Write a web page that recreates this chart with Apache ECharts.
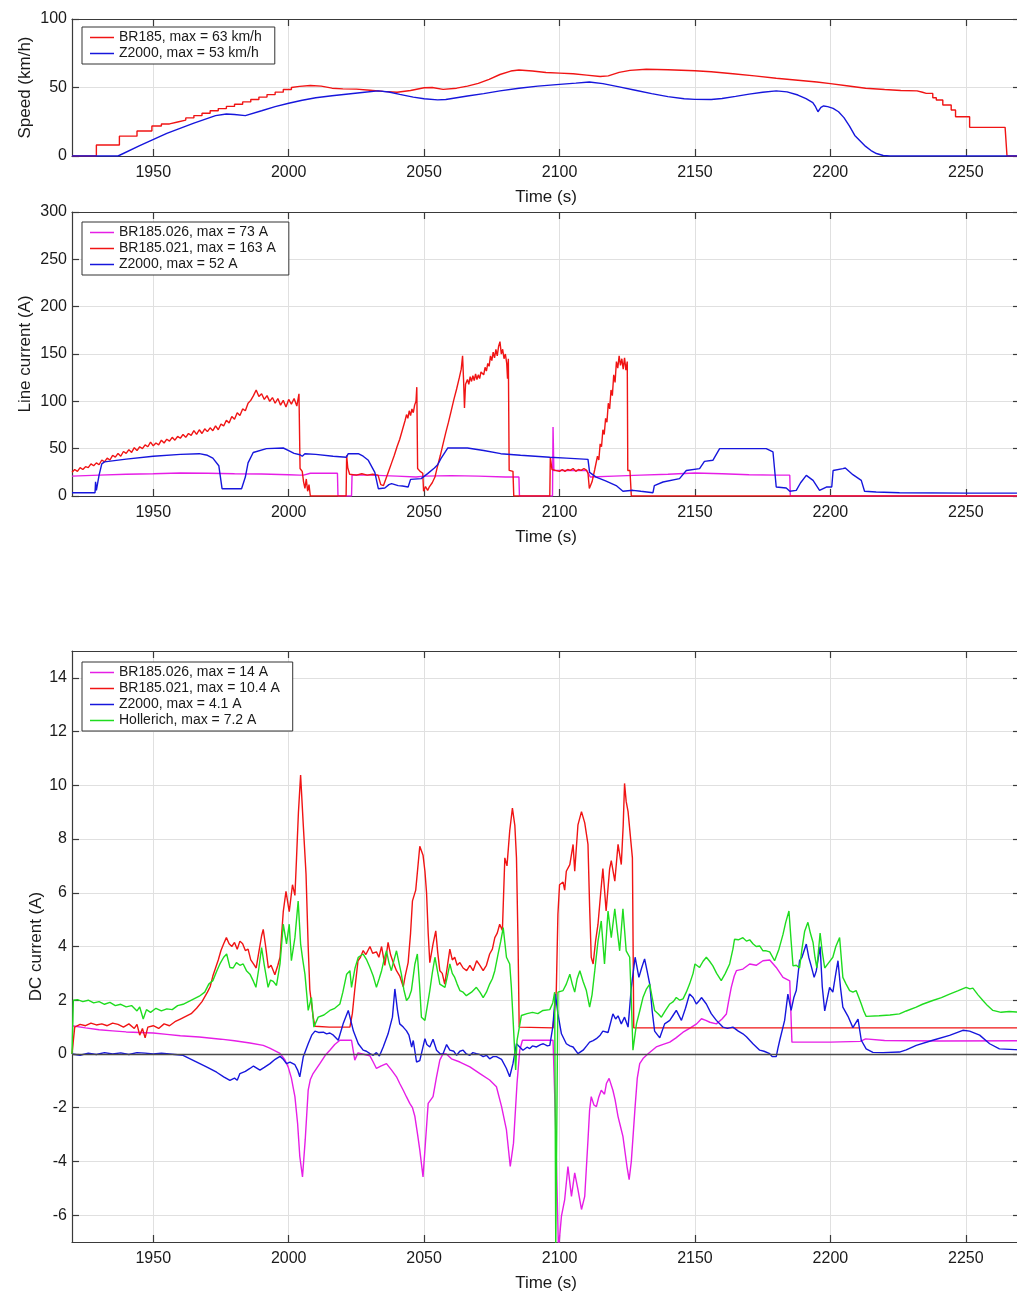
<!DOCTYPE html>
<html>
<head>
<meta charset="utf-8">
<script src="https://cdn.jsdelivr.net/npm/echarts@6/dist/echarts.min.js"></script>
<style>
html,body{margin:0;padding:0;background:#fff;overflow:hidden;}
#c{width:1026px;height:1293px;}
</style>
</head>
<body>
<div id="c"></div>
<script>
// ---------------- DATA ----------------
const xTicks = [1950, 2000, 2050, 2100, 2150, 2200, 2250];
const dcTicks = [-6, -4, -2, 0, 2, 4, 6, 8, 10, 12, 14];

const seriesNames = {
  spBR: 'BR185, max = 63 km/h',
  spZ: 'Z2000, max = 53 km/h',
  lnM: 'BR185.026, max = 73 A',
  lnR: 'BR185.021, max = 163 A',
  lnB: 'Z2000, max = 52 A',
  dcM: 'BR185.026, max = 14 A',
  dcR: 'BR185.021, max = 10.4 A',
  dcB: 'Z2000, max = 4.1 A',
  dcG: 'Hollerich, max = 7.2 A'
};

// Speed panel
const speedBR185 = [[1920,0],[1929,0],[1929,8],[1937.5,8],[1937.5,14.5],[1944,14.5],[1944,18.2],[1949.5,18.2],[1949.5,21.9],
[1953,21.9],[1953,23.4],[1956,23.4],[1956,24.8],[1959,24.8],[1959,26.2],[1962,26.2],[1962,27.8],[1965,27.8],[1965,29.5],
[1968,29.5],[1968,31.2],[1971,31.2],[1971,33],[1974,33],[1974,34.6],[1977,34.6],[1977,36.2],[1980,36.2],[1980,37.8],
[1983,37.8],[1983,39.5],[1986,39.5],[1986,41.2],[1989,41.2],[1989,43],[1992,43],[1992,44.8],[1995,44.8],[1995,46.6],
[1998,46.6],[1998,48.5],[2001,48.5],[2001,50],[2004,50.8],[2008,51.5],[2012,51],[2016,49.5],[2020,49],[2025,48.8],
[2030,48],[2035,47.2],[2040,46.5],[2045,47.8],[2050,49.8],[2053,50],[2057,48.6],[2062,49.5],[2066,51],[2070,53],
[2074,56],[2078,59.5],[2082,62],[2085,62.8],[2090,62],[2095,61],[2100,60.5],[2105,60],[2110,59],[2115,58],[2118,58.5],
[2122,61],[2126,62.5],[2132,63.3],[2140,63],[2150,62.2],[2156,61.5],[2164,60],[2172,58.5],[2180,56.8],[2188,55.3],
[2195,54],[2200,52.8],[2206,51.3],[2213,49.5],[2220,48.5],[2226,47.8],[2232,47.5],[2234,46.5],[2235.4,45.7],[2237.8,45.7],
[2237.8,42.5],[2239.1,42.5],[2239.1,40.9],[2241.5,40.9],[2241.5,37.2],[2244.6,37.2],[2244.6,33.6],[2246.2,33.6],
[2246.2,28.7],[2251.4,28.7],[2251.4,20.9],[2264.5,20.9],[2265.2,0],[2270,0]];

const speedZ2000 = [[1920,0],[1937,0],[1945,7.5],[1955,16.5],[1965,24],[1973,29.5],[1977,30.7],[1980,30.3],[1984,29.5],
[1990,33],[1995,36],[2000,38.5],[2005,40.7],[2010,42.5],[2016,44],[2022,45.3],[2028,46.5],[2033,47.5],[2037,46.7],
[2041,45],[2046,43],[2050,41.8],[2055,41],[2058,41.2],[2062,42.5],[2066,43.8],[2072,45.5],[2078,47.5],[2085,49.5],
[2092,51],[2100,52.3],[2106,53.2],[2111,54],[2116,52.8],[2122,50.5],[2128,48],[2134,45.5],[2140,43.3],[2146,41.8],
[2150,41.3],[2156,41.2],[2160,42],[2165,43.5],[2170,45.2],[2175,46.5],[2180,47.5],[2184,46.8],[2188,44.5],[2191,41.8],
[2193.5,39],[2194.5,36],[2195.4,32.3],[2196.5,35.5],[2197.5,36.5],[2199,36],[2201,34.8],[2203,32.3],[2205,28],
[2207,22],[2209,15],[2211,11],[2213,7],[2215,4],[2217,1.8],[2219.5,0.4],[2222,0],[2270,0]];

// Line current panel
const lineBR026 = [[1920,21],[1930,22],[1940,23],[1950,23.5],[1960,24.3],[1970,24],[1980,23.5],[1990,23.2],[2000,22.5],
[2004,22],[2005.5,22],[2006,23.8],[2008,24],[2018,24],[2018.2,0],[2023.2,0],[2023.4,22.5],[2030,22],[2040,21],[2047,20],
[2050,21],[2060,21.5],[2070,21],[2080,20],[2085,20],[2085.2,0],[2097.4,0],[2097.6,73],[2097.9,27],[2105,27],[2110,27],
[2111.4,20],[2120,21],[2130,22],[2140,23],[2150,24.3],[2160,23.5],[2170,22.5],[2180,22],[2185,22],[2185.2,0],[2270,0]];

const lineBR021 = [[1920,25],[1921,28],[1922,26],[1923,30],[1924,28],[1925,31],[1926,30],[1927,34],[1928,32],[1929,35],
[1930,33],[1931,38],[1932,36],[1933,40],[1934,38],[1935,43],[1936,41],[1937,45],[1938,42],[1939,47],[1940,45],[1941,49],
[1942,46],[1943,51],[1944,48],[1945,52],[1946,50],[1947,54],[1948,52],[1949,57],[1950,53],[1951,56],[1952,54],[1953,59],
[1954,56],[1955,60],[1956,58],[1957,62],[1958,59],[1959,63],[1960,61],[1961,65],[1962,62],[1963,66],[1964,64],[1965,69],
[1966,65],[1967,70],[1968,66],[1969,71],[1970,68],[1971,72],[1972,69],[1973,74],[1974,70],[1975,76],[1976,74],[1977,80],
[1978,77],[1979,84],[1980,81],[1981,88],[1982,85],[1983,92],[1984,90],[1985,98],[1986,101],[1987,106],[1988,112],
[1989,105],[1990,108],[1991,102],[1992,106],[1993,100],[1994,104],[1995,98],[1996,103],[1997,96],[1998,101],[1999,94],
[2000,102],[2001,97],[2002,103],[2003,95],[2003.8,108],[2004.2,29],[2005,26],[2005.5,15],[2006,8],[2006.5,18],[2007,5],
[2007.5,12],[2008,0],[2021.2,0],[2021.4,43],[2021.8,30],[2022.5,23],[2025,22],[2027,23.5],[2029,22],[2031,23],[2033,22],
[2034,12],[2035,11],[2036,19],[2037,27],[2038,35],[2039,43],[2040,52],[2041,60],[2042,70],[2043,80],[2043.5,86],[2044,82],
[2044.5,90],[2045,85],[2045.5,92],[2046,88],[2046.5,96],[2047,100],[2047.3,115],[2047.6,29],[2048.5,26],[2049.5,24],
[2049.8,5],[2050.5,10],[2051.3,6],[2052,10],[2053,14],[2054,20],[2055,32],[2056,43],[2057,55],[2058,67],[2059,78],
[2060,90],[2061,102],[2062,113],[2063,125],[2063.7,134],[2064.2,148],[2064.6,120],[2064.9,93],[2065.3,118],[2066,123],
[2066.5,118],[2067,126],[2067.5,121],[2068,127],[2068.5,122],[2069,129],[2069.5,123],[2070,128],[2070.5,124],[2071,131],
[2072,128],[2072.5,136],[2073,132],[2073.5,140],[2074,137],[2074.5,148],[2075,143],[2075.5,152],[2076,146],[2076.5,155],
[2077,148],[2077.5,158],[2078,163],[2078.5,150],[2079,155],[2079.5,145],[2080,150],[2080.5,140],[2080.8,124],[2081.1,145],
[2081.4,27],[2082,26],[2082.8,26],[2083.1,0],[2096.4,0],[2096.6,41],[2097.2,28],[2098.5,27],[2100,26],[2101,28],[2102,26],
[2103,28],[2104,27],[2105,29],[2106,26],[2107,28],[2108,27],[2109,29],[2110,27],[2110.5,24],[2111,8],[2112,15],[2113,28],
[2113.5,26],[2114,42],[2114.5,38],[2115,55],[2115.5,52],[2116,70],[2116.5,65],[2117,82],[2117.5,78],[2118,98],[2118.5,92],
[2119,112],[2119.5,106],[2120,128],[2120.5,120],[2121,142],[2121.5,135],[2122,148],[2122.5,138],[2123,145],[2123.5,134],
[2124,146],[2124.5,133],[2125,142],[2125.2,27],[2126,27],[2126.5,0],[2270,0]];

const lineZ2000 = [[1920,3.5],[1928.5,3.5],[1928.7,15],[1929,6],[1930,22],[1931,34],[1932,36],[1940,39],[1950,42],[1960,44],
[1967,44.7],[1970,43],[1972,40],[1974.2,32],[1975.4,7.7],[1982.6,7.7],[1984,20],[1985,35],[1986.9,46],[1991.8,50],
[1998,50.7],[2000,48],[2002,45],[2004.2,43.6],[2005,42],[2006,44.7],[2010,44],[2016.4,42],[2021.3,41],[2022,44.7],
[2025.7,44.7],[2027.5,42],[2029.4,37.7],[2031.8,25],[2033.1,7.7],[2035.5,8.5],[2037,12],[2038,13],[2040.4,11],[2042,10.5],
[2044.1,9.5],[2045,17.6],[2048.9,18.3],[2051.3,23.6],[2053.8,29.6],[2055,33],[2056.2,39.4],[2058.7,50.7],[2066,50.7],
[2072,48],[2078.3,44.7],[2085.6,43],[2096.4,41],[2102.5,40],[2110.5,38.7],[2111.1,25],[2113.5,20],[2117,16],[2120.9,11],
[2123.4,5],[2127.1,6],[2130,5],[2134.5,3.5],[2135,11],[2138.2,14.8],[2144.3,18.3],[2146.8,27],[2151.7,28.9],[2153.5,36.6],
[2156.6,37.7],[2159.1,50],[2170,50],[2176.3,50],[2178.8,46.5],[2180,9.5],[2183.7,8.5],[2185,5],[2187.4,6],[2189,14],
[2191.1,21.8],[2193.6,16.5],[2196,6],[2198.5,9.5],[2200.5,9.5],[2201,27],[2204.6,28.9],[2205.5,29.6],[2208.3,22.5],
[2211.4,16.5],[2212.6,5],[2216.9,4.2],[2225.5,3.5],[2250,3],[2270,3]];

// DC current panel
const dcBR026 = [[1920,1.05],[1925,0.97],[1930,0.9],[1935,0.86],[1940,0.82],[1945,0.8],[1950,0.78],[1955,0.73],[1960,0.68],
[1967,0.63],[1975,0.55],[1980,0.49],[1985.7,0.41],[1990.6,0.32],[1993,0.22],[1996.8,0.02],[1998.5,-0.2],[1999.8,-0.48],
[2001,-0.9],[2002.3,-1.59],[2003.3,-2.6],[2004.1,-3.81],[2005.1,-4.58],[2006.1,-3.2],[2007.2,-1.35],[2008,-0.95],
[2009,-0.73],[2011.5,-0.36],[2013.5,-0.05],[2015.2,0.14],[2017,0.35],[2018.9,0.51],[2023.2,0.51],[2024.4,-0.23],
[2025.6,0.04],[2028,-0.02],[2030,-0.07],[2031.2,-0.3],[2032.4,-0.54],[2034,-0.45],[2036.1,-0.36],[2038,-0.6],
[2039.8,-0.85],[2041,-1.1],[2042.3,-1.35],[2043.5,-1.6],[2044.7,-1.84],[2045.7,-2.0],[2046.6,-2.33],[2047.6,-3.0],
[2048.4,-3.57],[2049.6,-4.58],[2050.9,-2.7],[2051.5,-1.84],[2053.3,-1.59],[2054.5,-0.9],[2055.8,-0.23],[2057,0.01],
[2058.2,0.0],[2060.1,-0.18],[2063.2,-0.3],[2066.9,-0.48],[2070.6,-0.73],[2074.2,-0.97],[2076.7,-1.22],[2078.6,-1.96],
[2080.4,-2.83],[2081.8,-4.19],[2083,-3.32],[2084.3,-1.1],[2085.3,0.14],[2086.3,0.51],[2097.6,0.51],[2098.5,-2.5],
[2099.6,-7.3],[2100.7,-6.04],[2101.9,-5.42],[2103.1,-4.19],[2104.4,-5.3],[2105.6,-4.43],[2106.8,-5.05],[2108.1,-5.79],
[2109.3,-5.3],[2110.5,-3.2],[2111.1,-2.09],[2111.7,-1.59],[2112.7,-1.9],[2113.6,-1.96],[2114.5,-1.6],[2115.4,-1.35],
[2116.6,-1.5],[2117.3,-1.1],[2118.3,-0.91],[2119.7,-1.35],[2120.5,-1.7],[2121.6,-2.33],[2122.5,-2.7],[2123.4,-3.07],
[2124.9,-4.19],[2125.7,-4.68],[2126.5,-4.0],[2127.9,-1.96],[2128.7,-0.9],[2129.6,-0.36],[2131,-0.15],[2132.7,0.01],
[2135.7,0.26],[2138,0.35],[2140.7,0.44],[2143,0.6],[2145.6,0.81],[2148,0.95],[2150.6,1.12],[2152.4,1.31],[2154,1.25],
[2155.5,1.18],[2157.9,1.12],[2160,1.3],[2161.6,1.49],[2162.5,2.0],[2163.4,2.48],[2164.5,2.9],[2165.3,3.1],[2167.7,3.16],
[2170.2,3.35],[2172.6,3.3],[2175.1,3.47],[2177.6,3.5],[2180,3.22],[2182.5,2.85],[2185,2.72],[2185.8,0.44],[2200,0.44],
[2211,0.47],[2213,0.56],[2220,0.5],[2240,0.48],[2270,0.49]];

const dcBR021 = [[1920,0],[1921,1.0],[1923,1.1],[1925,1.05],[1927,1.15],[1929,1.08],[1931,1.12],[1933,1.05],[1935,1.15],
[1937,1.1],[1939,1.0],[1941,1.12],[1943,0.95],[1944,1.1],[1945,0.7],[1946,0.95],[1947,0.6],[1948,1.0],[1950,1.05],
[1952,0.95],[1954,1.12],[1956,1.05],[1958,1.2],[1960,1.3],[1962,1.4],[1964,1.5],[1966,1.7],[1968,1.95],[1970,2.3],
[1971,2.5],[1972,2.9],[1973,3.2],[1974,3.5],[1975,3.85],[1976,4.1],[1977,4.33],[1978,4.1],[1979,4.0],[1980,4.15],
[1981,3.9],[1982,4.2],[1983,4.1],[1984,3.85],[1985,3.9],[1986,3.5],[1987,3.35],[1988,3.2],[1989,3.8],[1990,4.4],
[1990.6,4.64],[1991.5,4.0],[1992.5,3.2],[1993.5,3.3],[1994.9,2.95],[1996,3.3],[1996.8,3.6],[1998,5.3],[1999,6.05],
[2000.2,5.3],[2001.4,6.3],[2002.3,5.9],[2002.9,7.3],[2003.6,9.0],[2004.4,10.38],[2005.4,8.5],[2006.4,6.7],[2007.2,4.0],
[2007.8,2.4],[2009,1.4],[2009.7,1.03],[2015,1.0],[2022.6,1.0],[2023.5,1.5],[2024.4,2.4],[2025.6,3.47],[2026.5,3.6],
[2027.5,3.85],[2028.5,3.7],[2030,4.0],[2031,3.75],[2032.4,3.8],[2033.3,3.6],[2034.3,4.0],[2035.5,3.3],[2036.7,4.15],
[2037.6,3.7],[2038.6,3.4],[2039.8,3.1],[2041,2.9],[2042.3,2.5],[2043,2.9],[2044.1,3.4],[2045,4.5],[2045.7,5.7],
[2046.9,6.1],[2048.4,7.73],[2049.6,7.4],[2050.3,6.8],[2050.9,6.0],[2051.5,4.5],[2052.1,3.4],[2053.3,4.1],[2054.3,4.58],
[2055,3.8],[2055.8,3.1],[2056.7,3.0],[2057.6,2.6],[2058.5,3.2],[2059.5,3.9],[2060.4,3.5],[2061.3,3.6],[2062.2,3.3],
[2063.2,3.4],[2064.4,3.2],[2065.7,3.1],[2066.9,3.3],[2068.1,3.1],[2069.4,3.47],[2070.6,3.3],[2071.8,3.1],[2073,3.3],
[2074.2,3.72],[2075.2,3.9],[2076.1,4.33],[2077,4.5],[2077.9,4.83],[2078.9,4.6],[2079.8,7.3],[2080.6,7.0],[2081.6,8.3],
[2082.6,9.15],[2083.5,8.5],[2084.1,7.3],[2084.7,4],[2085.1,1.0],[2097.6,0.97],[2098.8,2.36],[2099.4,5.2],[2100,6.3],
[2101.3,6.4],[2101.9,6.1],[2102.5,6.8],[2103.8,7.05],[2105,7.8],[2105.6,6.8],[2106.8,8.53],[2108.1,9.02],[2109.3,8.6],
[2110.5,7.8],[2111.1,5.5],[2111.7,3.6],[2112.4,3.35],[2113.3,4.2],[2114.2,4.83],[2115.2,6.0],[2116,6.9],[2117.2,5.32],
[2118.5,6.9],[2119.1,7.2],[2120.4,6.43],[2121.6,7.8],[2122.8,7.05],[2123.5,8.5],[2124,10.07],[2124.6,9.4],[2125.3,9.02],
[2125.9,9.0],[2126.9,7.3],[2127.4,0.97],[2270,0.97]];

const dcZ2000 = [[1920,0],[1923,-0.05],[1926,0.03],[1929,-0.02],[1932,0.05],[1935,0.0],[1938,0.04],[1941,-0.02],[1944,0.05],
[1947,0.03],[1950,0.0],[1953,0.03],[1956,0.0],[1959,-0.03],[1961,-0.05],[1964,-0.2],[1967.2,-0.36],[1970,-0.5],
[1973.4,-0.68],[1976,-0.85],[1978.3,-0.98],[1980,-0.9],[1981,-0.98],[1982,-0.73],[1984,-0.65],[1985.7,-0.54],[1987,-0.45],
[1989.4,-0.6],[1991,-0.5],[1993.1,-0.36],[1995,-0.2],[1996.8,-0.09],[1998,-0.2],[1999.2,-0.36],[2000.5,-0.3],[2002.3,-0.4],
[2003.3,-0.6],[2004.1,-0.85],[2005.4,-0.1],[2007.2,0.38],[2008.5,0.7],[2009.7,0.85],[2011,0.8],[2012.8,0.81],[2014,0.75],
[2015.2,0.78],[2016.5,0.7],[2018.3,0.51],[2020.1,1.12],[2022,1.62],[2023.9,0.85],[2025.7,0.38],[2027.5,0.14],[2028.7,0.1],
[2030,0.01],[2031.2,-0.05],[2032.4,0.05],[2033.5,-0.08],[2034.9,0.26],[2036.7,0.75],[2038.3,1.37],[2039.2,2.42],
[2040.2,1.6],[2041,1.12],[2042.3,1.0],[2043.5,0.86],[2044.4,0.7],[2045.4,0.26],[2046,0.5],[2047.2,-0.3],[2048.4,-0.25],
[2049,-0.3],[2050.3,0.57],[2051,0.35],[2052.1,0.26],[2053.3,0.55],[2054.6,0.14],[2056,0.0],[2057,0.01],[2058.3,0.35],
[2059.5,0.14],[2061,0.1],[2062,-0.05],[2063.2,0.1],[2064.4,0.14],[2065.6,0.0],[2066.9,-0.05],[2068,0.05],[2069.3,0.01],
[2070.5,-0.02],[2071.8,-0.1],[2073,-0.05],[2074.2,-0.18],[2075.5,-0.1],[2076.7,-0.1],[2078.6,-0.2],[2080.4,-0.54],
[2081.6,-0.85],[2082.8,-0.36],[2084.1,0.38],[2085.3,0.26],[2086.5,0.14],[2088,0.25],[2089,0.2],[2090,0.3],[2091.5,0.26],
[2093,0.35],[2094,0.38],[2095.5,0.3],[2096.4,0.32],[2097.5,1.0],[2098.5,2.23],[2099.4,1.49],[2100.7,0.75],[2102.5,0.38],
[2103.8,0.3],[2105,0.26],[2106.8,0.01],[2108.7,0.14],[2110,0.3],[2111.1,0.44],[2112.4,0.5],[2113.6,0.57],[2115,0.7],
[2116,0.85],[2117.9,0.8],[2119.7,1.49],[2120.7,1.3],[2121.6,1.42],[2122.8,1.12],[2124,1.37],[2125.3,1.0],[2126.5,2.48],
[2127.9,3.6],[2129.3,2.85],[2130.3,3.2],[2131.4,3.54],[2132.3,3.1],[2133.3,2.6],[2134.2,1.6],[2135.1,0.85],[2137,0.6],
[2138.8,1.12],[2140.7,1.25],[2142,1.45],[2143.1,1.62],[2145,1.25],[2146.5,1.7],[2148,2.23],[2149.3,2.1],[2150.5,1.86],
[2151.7,2.0],[2152.4,2.1],[2154.2,1.86],[2156,1.5],[2157.9,1.25],[2160.3,1.0],[2162,0.95],[2164,1.0],[2166,0.85],
[2167.7,0.75],[2169,0.64],[2171.4,0.38],[2173.9,0.14],[2175.5,0.1],[2177.6,0.01],[2178.5,-0.1],[2180,-0.1],[2180.6,0.2],
[2181.3,0.51],[2183.1,1.25],[2184.3,2.23],[2185.5,1.62],[2186.5,2.1],[2187.4,2.36],[2188.6,3.47],[2189.5,3.6],
[2191.1,4.09],[2192,3.6],[2192.9,3.28],[2194,2.85],[2194.8,3.1],[2196.2,4.0],[2197,2.5],[2197.9,1.6],[2199.7,2.48],
[2200.9,2.3],[2202,3.0],[2202.8,3.47],[2203.7,2.5],[2204.6,1.74],[2206.5,1.4],[2208.3,0.98],[2210.2,1.3],[2211.4,0.51],
[2213.2,0.19],[2215.7,0.06],[2219.4,0.05],[2225.5,0.07],[2228,0.15],[2231.7,0.32],[2237.8,0.51],[2244,0.69],
[2248.9,0.88],[2251.4,0.85],[2255.1,0.7],[2258.8,0.38],[2262.4,0.19],[2270,0.15]];

const dcHollerich = [[1920,0],[1920.5,2.0],[1922,2.02],[1924,1.95],[1926,2.0],[1928,1.9],[1930,1.95],[1932,1.85],[1934,1.92],
[1936,1.8],[1938,1.85],[1940,1.75],[1942,1.8],[1944,1.6],[1945,1.75],[1946.3,1.3],[1947.5,1.65],[1949,1.55],[1951,1.7],
[1953,1.6],[1955,1.68],[1957,1.65],[1959,1.8],[1961,1.85],[1963,1.95],[1965,2.05],[1967,2.15],[1969,2.3],[1970.5,2.6],
[1972,2.73],[1973.5,3.1],[1974.6,3.35],[1976,3.6],[1977.1,3.72],[1978.3,3.22],[1979.5,3.2],[1980.7,3.4],[1982,3.3],
[1983.2,3.35],[1984.4,3.1],[1985.7,2.97],[1987,2.7],[1987.9,2.48],[1989,3.2],[1990,3.96],[1991,3.3],[1992.4,2.48],
[1993.3,2.75],[1994.3,2.7],[1995.5,2.55],[1996.8,3.35],[1998,4.83],[1999.2,4.1],[2000.2,4.83],[2001,3.47],[2002.3,4.33],
[2003.5,5.69],[2004.4,4.1],[2005.2,3.5],[2006,2.97],[2007.2,1.62],[2008.4,2.1],[2009.3,1.0],[2010.9,1.37],[2013,1.45],
[2015.2,1.62],[2017,1.7],[2018.9,1.86],[2020,2.3],[2021.4,2.97],[2022.6,3.1],[2023.2,2.48],[2024.5,3.2],[2025.7,3.6],
[2027.5,3.72],[2028.8,3.5],[2030,3.22],[2031.2,2.9],[2032.4,2.48],[2033.4,2.8],[2034.3,3.1],[2035.2,3.5],[2036.1,3.84],
[2037,3.4],[2037.9,3.1],[2038.9,3.5],[2039.8,3.84],[2040.7,3.4],[2041.6,2.97],[2042.5,2.4],[2043.5,1.99],[2044.4,2.1],
[2045.3,2.36],[2046.6,3.35],[2047.5,3.72],[2048.3,2.6],[2049,1.37],[2050.3,1.25],[2051.2,1.8],[2052.1,2.36],[2053,3.0],
[2054,3.6],[2054.9,3.1],[2055.8,2.6],[2057.7,2.48],[2058.6,2.9],[2059.5,3.35],[2060.4,3.0],[2061.3,2.85],[2062.2,2.6],
[2063.2,2.36],[2064.4,2.3],[2065.6,2.17],[2067.5,2.3],[2069.3,2.48],[2070.6,2.3],[2071.8,2.1],[2073,2.3],[2074.2,2.6],
[2075.2,2.8],[2076.1,3.1],[2077.3,3.72],[2078.3,4.2],[2079.2,4.7],[2080.4,3.6],[2081.6,3.35],[2082.2,2.5],[2082.8,1.37],
[2083.8,-0.6],[2084.3,0.5],[2085.9,1.43],[2088,1.5],[2090,1.55],[2092,1.5],[2093.9,1.62],[2096.4,1.65],[2097.5,1.9],
[2098.2,2.3],[2098.6,-7.2],[2099.4,2.3],[2101.3,2.36],[2102.5,2.6],[2103.8,2.97],[2104.7,2.6],[2105.6,2.3],[2106.5,2.8],
[2107.5,3.1],[2108.7,2.7],[2109.9,2.36],[2111.1,1.74],[2112,2.2],[2113,3.1],[2114.2,4.2],[2115.4,4.95],[2116.6,3.35],
[2117.9,5.32],[2119.1,4.33],[2120.4,5.4],[2121.3,4.6],[2122.2,3.84],[2123.4,5.4],[2124.6,3.84],[2125.9,3.6],[2126.5,2.0],
[2127.1,0.14],[2128.4,1.12],[2129.6,1.6],[2130.8,2.1],[2132,2.4],[2133.3,2.6],[2134.2,2.1],[2135.1,1.62],[2136.4,1.5],
[2137.6,1.37],[2139,1.6],[2140.7,1.86],[2142,1.95],[2143.1,2.1],[2144.4,2.0],[2145.6,2.05],[2146.8,2.3],[2148,2.6],
[2149.3,3.0],[2150,3.35],[2151.7,3.22],[2153,3.45],[2154.2,3.6],[2155.4,3.45],[2156.6,3.28],[2158,3.0],[2159.7,2.73],
[2161.2,3.0],[2162.8,3.35],[2164,3.9],[2164.6,4.27],[2166,4.25],[2167.7,4.33],[2169,4.2],[2170.2,4.25],[2171.4,4.1],
[2172.6,4.0],[2173.9,4.02],[2175.1,3.84],[2176.3,3.84],[2177.6,3.8],[2179.4,3.47],[2181,3.9],[2182.5,4.45],[2183.5,4.9],
[2184.7,5.32],[2185.5,4.2],[2186.2,3.28],[2187.4,3.3],[2188.6,3.2],[2189.5,3.9],[2190.5,4.57],[2191.7,4.9],[2192.6,4.5],
[2193.6,4.15],[2194.3,3.6],[2195,3.2],[2196.2,4.5],[2197,3.8],[2197.9,3.2],[2199.4,3.4],[2200.9,3.6],[2202,4.0],
[2203.4,4.33],[2204.6,2.85],[2205.8,2.6],[2207.1,2.36],[2208.3,2.3],[2209.5,2.36],[2210.5,2.1],[2211.4,1.86],[2212.3,1.6],
[2213.2,1.4],[2218,1.42],[2222,1.45],[2225.5,1.49],[2228,1.6],[2231.7,1.74],[2234,1.85],[2237.8,1.99],[2241,2.1],
[2244,2.23],[2247,2.35],[2250.1,2.48],[2251.5,2.42],[2252.6,2.45],[2254.5,2.2],[2256.3,1.99],[2258,1.8],[2260,1.62],
[2263,1.55],[2266,1.58],[2270,1.55]];

// ---------------- CHART ----------------
const FONT = '"Liberation Sans", Arial, Helvetica, sans-serif';
const TXT = '#1a1a1a';
const C = { red: '#f01414', blue: '#1616dc', mag: '#e61ee6', green: '#1fdc1f' };
const plain = v => String(v);

const grids = [
  { left: 72, width: 948, top: 19, height: 137 },
  { left: 72, width: 948, top: 212, height: 284 },
  { left: 72, width: 948, top: 651, height: 595 }
];

function xPair(gi) {
  const base = {
    type: 'value', min: 1920, max: 2270, splitNumber: 7, gridIndex: gi,
    axisLine: { show: true, onZero: false, lineStyle: { color: '#3a3a3a', width: 1.2 } },
    axisTick: { show: true, inside: true, length: 7, customValues: xTicks, lineStyle: { color: '#3a3a3a', width: 1.2 } }
  };
  return [
    Object.assign({}, base, {
      position: 'bottom',
      name: 'Time (s)', nameLocation: 'middle', nameGap: 33, nameMoveOverlap: false,
      nameTextStyle: { color: TXT, fontSize: 17, fontFamily: FONT },
      axisLabel: { show: true, customValues: xTicks, formatter: plain, margin: 9, color: TXT, fontSize: 16, fontFamily: FONT },
      splitLine: { show: true, lineStyle: { color: '#e0e0e0', width: 1 } }
    }),
    Object.assign({}, base, {
      position: 'top',
      axisLabel: { show: false },
      splitLine: { show: false }
    })
  ];
}

function yPair(gi, min, max, ticks, name, gap) {
  const tickCfg = ticks ? { customValues: ticks } : {};
  const base = {
    type: 'value', min: min, max: max, gridIndex: gi,
    axisLine: { show: true, onZero: false, lineStyle: { color: '#3a3a3a', width: 1.2 } },
    axisTick: Object.assign({ show: true, inside: true, length: 7, lineStyle: { color: '#3a3a3a', width: 1.2 } }, tickCfg)
  };
  if (!ticks) { base.interval = 50; } else { base.splitNumber = 11; }
  return [
    Object.assign({}, base, {
      position: 'left',
      name: name, nameLocation: 'middle', nameGap: gap, nameMoveOverlap: false,
      nameTextStyle: { color: TXT, fontSize: 17, fontFamily: FONT },
      axisLabel: Object.assign({ show: true, margin: 5, formatter: plain, color: TXT, fontSize: 16, fontFamily: FONT }, tickCfg),
      splitLine: { show: true, lineStyle: { color: '#e0e0e0', width: 1 } }
    }),
    Object.assign({}, base, {
      position: 'right',
      axisLabel: { show: false },
      splitLine: { show: false }
    })
  ];
}

function ln(name, data, color, xi, yi, extra) {
  return Object.assign({
    name: name, type: 'line', data: data, xAxisIndex: xi, yAxisIndex: yi,
    symbol: 'none', showSymbol: false, clip: true,
    lineStyle: { color: color, width: 1.4 }, itemStyle: { color: color },
    emphasis: { disabled: true }, silent: true, animation: false
  }, extra || {});
}

function legend(top, names) {
  return {
    left: 82, top: top, orient: 'vertical', data: names, selectedMode: false,
    icon: 'rect', itemWidth: 24, itemHeight: 1.5, itemGap: 1,
    backgroundColor: '#ffffff', borderColor: '#333', borderWidth: 1, borderRadius: 0,
    padding: [3, 13, 3, 8],
    textStyle: { color: TXT, fontSize: 14, fontFamily: FONT, lineHeight: 15 }
  };
}

const option = {
  backgroundColor: '#ffffff',
  animation: false,
  grid: grids,
  xAxis: [].concat(xPair(0), xPair(1), xPair(2)),
  yAxis: [].concat(
    yPair(0, 0, 100, null, 'Speed (km/h)', 38),
    yPair(1, 0, 300, null, 'Line current (A)', 38),
    yPair(2, -7, 15, dcTicks, 'DC current (A)', 27)
  ),
  legend: [
    legend(27, [seriesNames.spBR, seriesNames.spZ]),
    legend(222, [seriesNames.lnM, seriesNames.lnR, seriesNames.lnB]),
    legend(662, [seriesNames.dcM, seriesNames.dcR, seriesNames.dcB, seriesNames.dcG])
  ],
  series: [
    ln(seriesNames.spBR, speedBR185, C.red, 0, 0),
    ln(seriesNames.spZ, speedZ2000, C.blue, 0, 0),
    ln(seriesNames.lnM, lineBR026, C.mag, 2, 2),
    ln(seriesNames.lnR, lineBR021, C.red, 2, 2),
    ln(seriesNames.lnB, lineZ2000, C.blue, 2, 2),
    ln(seriesNames.dcM, dcBR026, C.mag, 4, 4, {
      markLine: { silent: true, symbol: 'none', label: { show: false }, animation: false,
        lineStyle: { color: '#4a4a4a', width: 1.4, type: 'solid' }, data: [{ yAxis: 0 }] }
    }),
    ln(seriesNames.dcR, dcBR021, C.red, 4, 4),
    ln(seriesNames.dcB, dcZ2000, C.blue, 4, 4),
    ln(seriesNames.dcG, dcHollerich, C.green, 4, 4)
  ]
};

const chart = echarts.init(document.getElementById('c'), null, { renderer: 'canvas' });
chart.setOption(option);
</script>
</body>
</html>
